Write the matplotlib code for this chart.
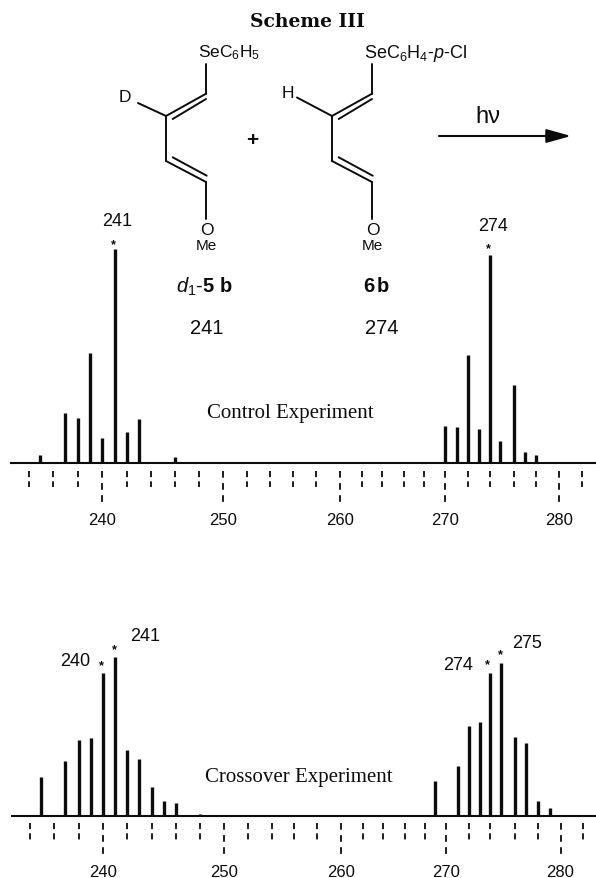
import numpy as np
import matplotlib
matplotlib.use("Agg")
import matplotlib.pyplot as plt

plt.rcParams['font.family'] = 'Liberation Sans'
plt.rcParams['mathtext.fontset'] = 'custom'
plt.rcParams['mathtext.rm'] = 'Liberation Sans'
plt.rcParams['mathtext.it'] = 'Liberation Sans:italic'
plt.rcParams['mathtext.bf'] = 'Liberation Sans:bold'
plt.rcParams['mathtext.default'] = 'regular'

W, H = 596, 879
INK = '#0c0c0c'

# control experiment, intensity as % of m/z 241
mz_control = [235, 237, 238, 239, 240, 241, 242, 243, 246, 248,
              270, 271, 272, 273, 274, 275, 276, 277, 278]
int_control = [3.7, 23.4, 20.9, 51.4, 11.5, 100, 14.3, 20.6, 2.7, 0.5,
               17.3, 16.7, 50.5, 15.7, 97.2, 10.1, 36.3, 5.1, 3.9]

# crossover experiment, intensity as % of m/z 241
mz_cross = [235, 237, 238, 239, 240, 241, 242, 243, 244, 245, 246, 248,
            269, 271, 272, 273, 274, 275, 276, 277, 278, 279]
int_cross = [24.1, 34.6, 47.4, 49.1, 89.7, 100, 41.5, 35.4, 18.2, 9.2, 7.7, 1.3,
             21.6, 31.4, 56.2, 58.7, 89.5, 96.0, 49.5, 45.9, 9.4, 5.0]

tick_mz = list(range(234, 284, 2))
major_mz = [240, 250, 260, 270, 280]

# the printed axis is not quite linear, so m/z -> pixel is read off the page
knot_mz_top = [200, 234, 235, 236, 237, 238, 239, 240, 241, 242, 243, 244, 246, 248, 250,
               252, 254, 256, 258, 260, 262, 264, 266, 268, 270, 271, 272, 273, 274, 275,
               276, 277, 278, 280, 282, 320]
knot_px_top = [-380, 29, 40, 53, 64.7, 77.7, 90, 102.3, 114.7, 126.7, 138.7, 150.7, 174.7, 199, 223,
               247, 270, 293, 316, 340, 361.7, 382, 404, 424, 445, 456.7, 468, 478.7, 489.7, 500.3,
               513.7, 524.7, 536.3, 559, 582, 1020]
knot_mz_bot = [200, 234, 235, 236, 237, 238, 239, 240, 241, 242, 243, 244, 245, 246, 248, 250,
               252, 254, 256, 258, 260, 262, 264, 266, 268, 269, 270, 271, 272, 273, 274, 275,
               276, 277, 278, 279, 280, 282, 320]
knot_px_bot = [-380, 30, 41, 54, 65.3, 78.7, 91, 103, 115, 127.3, 139.3, 151.7, 163.7, 175.7, 200, 224,
               248, 271.7, 294.3, 317, 340.7, 362.7, 383, 405, 425, 435, 446, 457.7, 468.7, 479.7, 490.3, 501,
               515, 526, 537.7, 549.7, 560.5, 583, 1020]

fig = plt.figure(figsize=(W / 100, H / 100), dpi=100, facecolor='white')

# page overlay in pixel coordinates for the scheme and labels
page = fig.add_axes([0, 0, 1, 1])
page.set_xlim(0, W)
page.set_ylim(H, 0)
page.axis('off')


def spectrum(mz, inten, knot_mz, knot_px, base_y, full_px, x0, short, long_end):
    fwd = lambda v: np.interp(v, knot_mz, knot_px)
    inv = lambda p: np.interp(p, knot_px, knot_mz)
    ax = fig.add_axes([x0 / W, 1 - base_y / H, 1 - x0 / W, full_px / H])
    ax.patch.set_alpha(0)
    ax.set_xscale('function', functions=(fwd, inv))
    ax.set_xlim(inv(x0), inv(W))
    ax.set_ylim(0, 100)
    for s in ['top', 'left', 'right']:
        ax.spines[s].set_visible(False)
    ax.spines['bottom'].set_linewidth(1.5)
    ax.spines['bottom'].set_color(INK)
    ax.set_yticks([])
    ax.minorticks_off()
    ax.vlines(mz, 0, inten, color=INK, lw=2.4, capstyle='butt', clip_on=False)
    # printed ticks are dashed and hang below the baseline
    to_y = 100 / full_px
    ax.vlines([t for t in tick_mz if t not in major_mz], -short[0] * to_y, -short[1] * to_y,
              color=INK, lw=1.3, linestyles=[(0, (3.4, 2.3))], clip_on=False)
    ax.vlines(major_mz, -short[0] * to_y, -long_end * to_y,
              color=INK, lw=1.3, linestyles=[(0, (3.7, 3.0))], clip_on=False)
    ax.set_xticks(major_mz)
    ax.set_xticklabels([str(m) for m in major_mz], fontsize=12, color=INK)
    ax.tick_params(axis='x', which='both', length=0, pad=35)
    return ax


spectrum(mz_control, int_control, knot_mz_top, knot_px_top, 464, 214, 11, (8, 24), 41)
spectrum(mz_cross, int_cross, knot_mz_bot, knot_px_bot, 816.7, 159, 12, (7, 25), 40)


def bond(x1, y1, x2, y2):
    page.plot([x1, x2], [y1, y2], color=INK, lw=1.4, solid_capstyle='round')


def diene(dx, ax_, ay_):
    bond(205.5 + dx, 65, 205.5 + dx, 95)
    bond(205.5 + dx, 95, 166 + dx, 117)
    bond(206 + dx, 100, 172.7 + dx, 120)
    bond(ax_, ay_, 166 + dx, 117)
    bond(166 + dx, 117, 166 + dx, 162)
    bond(166 + dx, 162, 206 + dx, 183)
    bond(172.7 + dx, 158.3, 206.7 + dx, 176.7)
    bond(206 + dx, 183, 206 + dx, 220)
    page.text(206.5 + dx, 231, 'O', fontsize=12.5, ha='center', va='center', color=INK)
    page.text(206.5 + dx, 246, 'Me', fontsize=11, ha='center', va='center', color=INK)


page.text(307, 22, 'Scheme III', family='DejaVu Serif', weight='bold', fontsize=13.5,
          ha='center', va='center', color=INK)

diene(0, 138, 104)
diene(166, 297, 98.5)
page.text(125, 98, 'D', fontsize=12.5, ha='center', va='center', color=INK)
page.text(288, 93, 'H', fontsize=12.5, ha='center', va='center', color=INK)
page.text(198, 53, 'SeC$_6$H$_5$', fontsize=12.5, ha='left', va='center', color=INK)
page.text(364, 53, 'SeC$_6$H$_4$-$\\mathit{p}$-Cl', fontsize=13, ha='left', va='center', color=INK)
page.text(252, 140, '+', fontsize=15, weight='bold', ha='center', va='center', color=INK)

page.text(488, 117, 'h\u03bd', fontsize=17, ha='center', va='center', color=INK)
page.annotate('', xy=(571, 137), xytext=(439, 137),
              arrowprops=dict(arrowstyle='-|>,head_length=1.5,head_width=0.42', color=INK, lw=1.5,
                              shrinkA=0, shrinkB=0))

page.text(204, 287, '$\\mathit{d_1}$-$\\mathbf{5\\ b}$', fontsize=14.5, ha='center', va='center', color=INK)
page.text(377, 287, '$\\mathbf{6\\,b}$', fontsize=14.5, ha='center', va='center', color=INK)
page.text(207, 329, '241', fontsize=14.5, ha='center', va='center', color=INK)
page.text(382, 329, '274', fontsize=14.5, ha='center', va='center', color=INK)

page.text(290, 414, 'Control Experiment', family='Liberation Serif', fontsize=15,
          ha='center', va='center', color=INK)
page.text(299, 778, 'Crossover Experiment', family='Liberation Serif', fontsize=15,
          ha='center', va='center', color=INK)

# peak labels and their stars
labels = [(117, 222, '241'), (493, 227, '274'), (145, 637, '241'), (75, 662, '240'),
          (458, 666, '274'), (527, 644, '275')]
stars = [(113, 243), (488, 247), (114, 648), (101, 664), (487, 663), (500, 653)]
for x, y, s in labels:
    page.text(x, y, s, fontsize=13, ha='center', va='center', color=INK)
for x, y in stars:
    page.text(x, y + 2, '*', fontsize=9, weight='bold', ha='center', va='center', color=INK)

fig.savefig('out.png', dpi=100, facecolor='white')
